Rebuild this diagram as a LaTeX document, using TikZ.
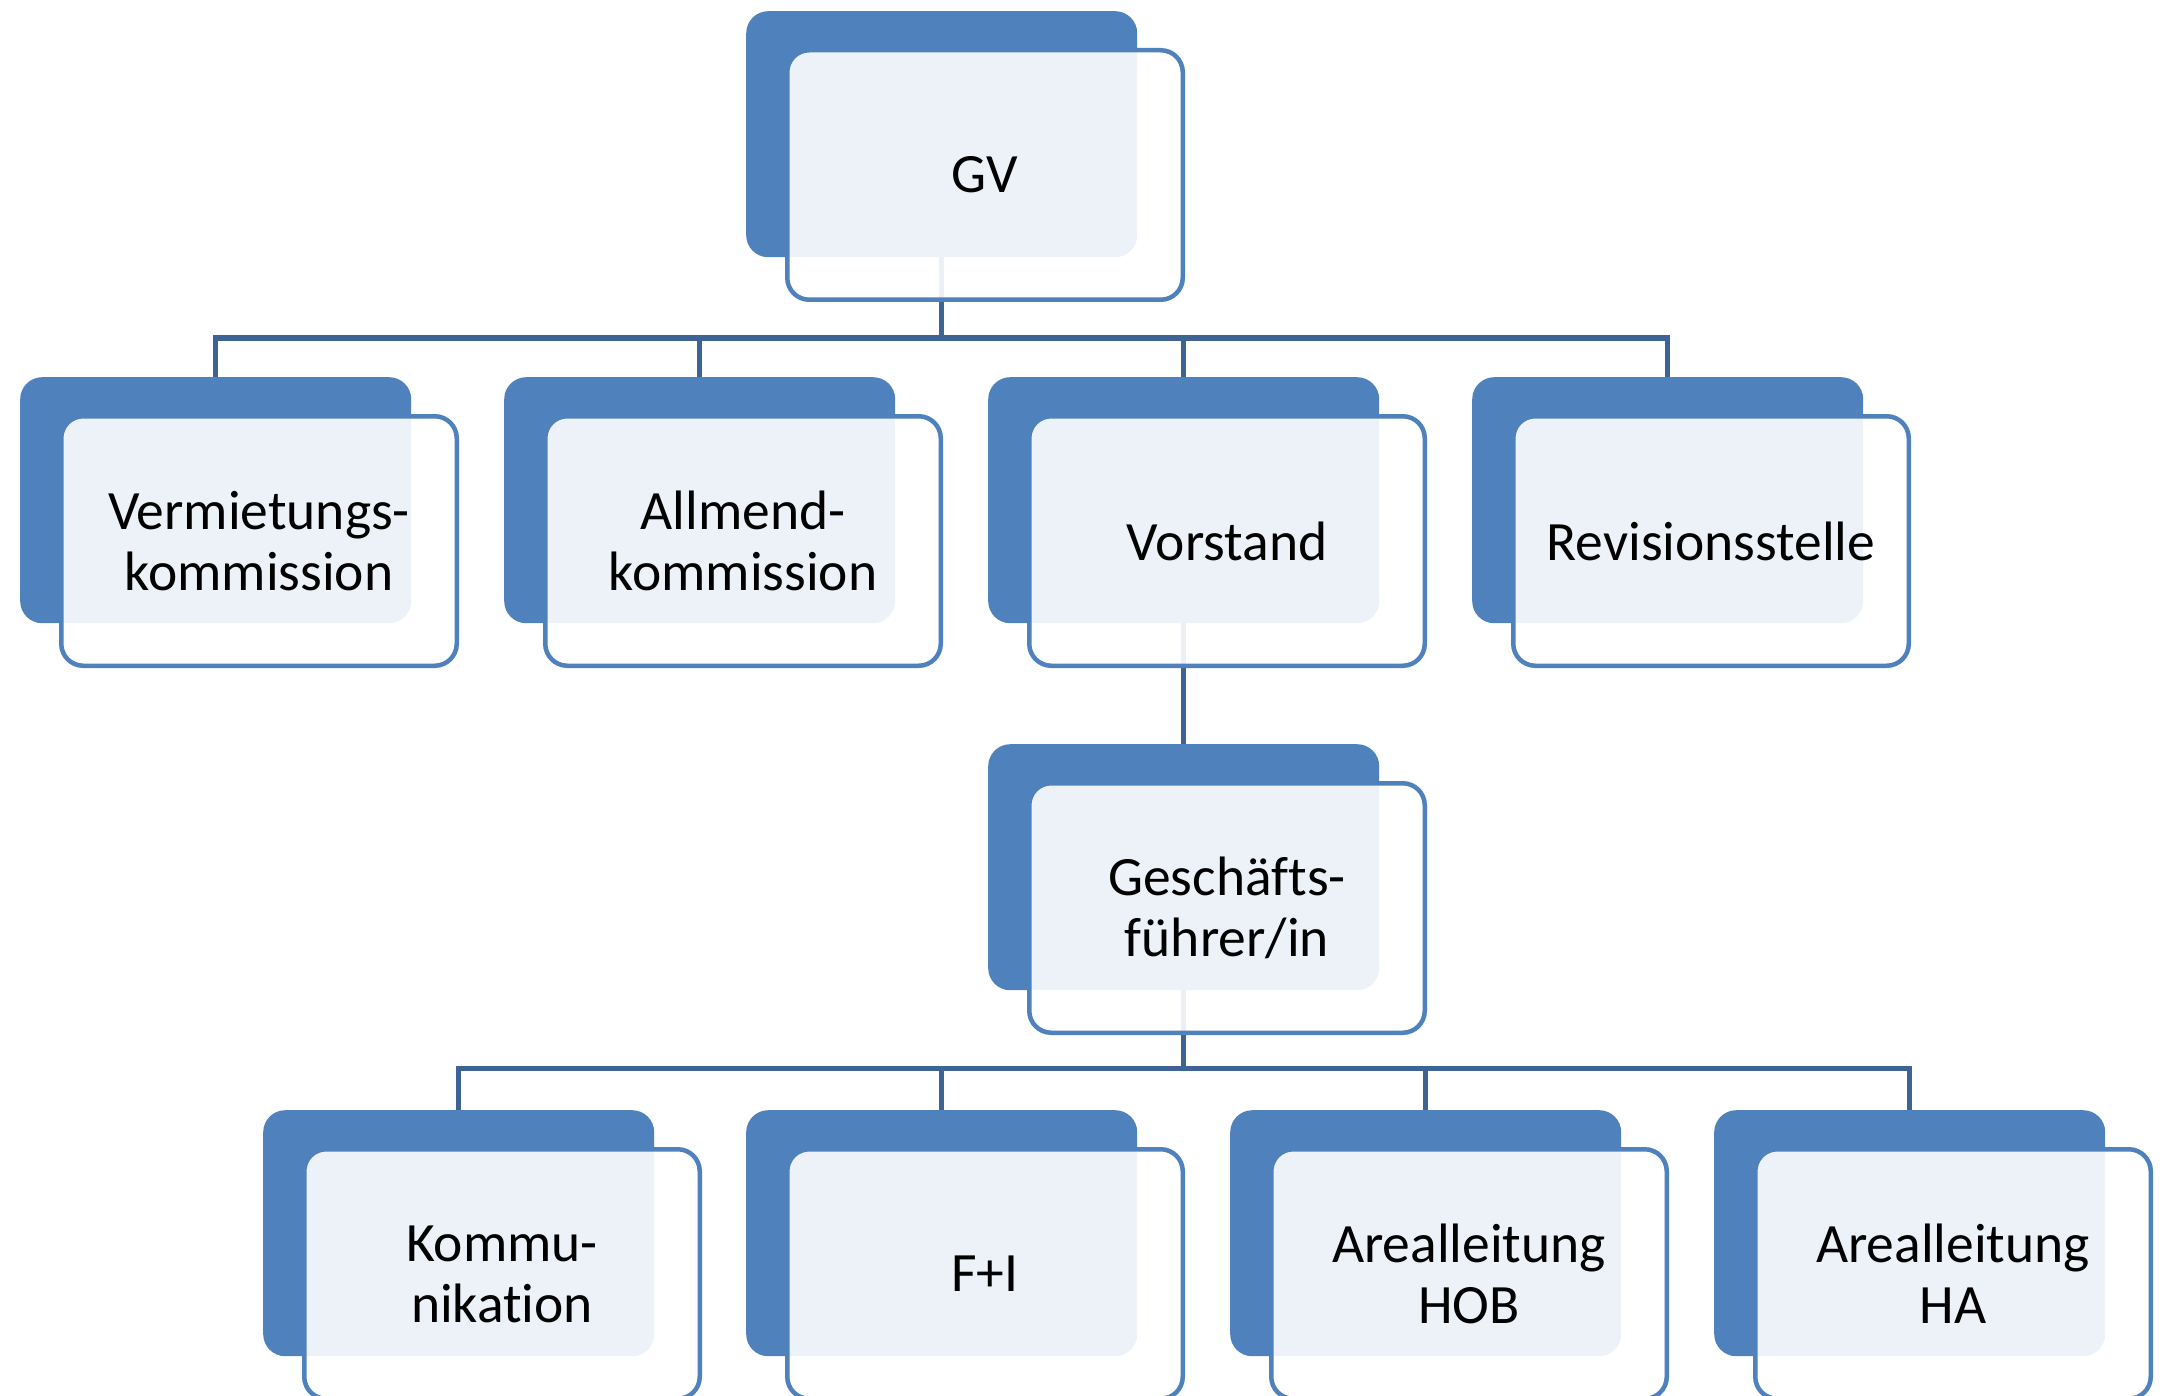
\documentclass[tikz,border=0pt]{standalone}
\usepackage{fontspec}
\setmainfont{Carlito}[Ligatures=NoCommon]
\definecolor{boxblue}{RGB}{79,129,189}
\definecolor{connblue}{RGB}{62,100,150}
\tikzset{
  backbox/.style={rectangle, rounded corners=22pt, fill=boxblue, inner sep=0pt,
    minimum width=391pt, minimum height=246pt, anchor=north west},
  frontbox/.style={rectangle, rounded corners=22pt, fill=white, fill opacity=0.9,
    text opacity=1, draw=boxblue, draw opacity=1, line width=4.5pt, inner sep=0pt,
    minimum width=395.5pt, minimum height=249.5pt, anchor=north west,
    align=center, font=\fontsize{55.5}{61}\selectfont},
  conn/.style={draw=connblue, line width=5pt}
}
\newcommand{\unit}[4]{%
  \node[backbox] (#1) at (#2,#3) {};
  \node[frontbox] (#1F) at (#2+39,#3+37) {#4};
}
\begin{document}
\begin{tikzpicture}[x=1pt,y=-1pt]
\useasboundingbox (0,0) rectangle (2167,1396);
\clip (0,0) rectangle (2167,1396);
\coordinate (barA) at (0,338);
\coordinate (barB) at (0,1068);
% positions of back boxes (for connectors)
\path (746,11) node[backbox, opacity=0] (gv) {};
\path (20,377) node[backbox, opacity=0] (verm) {};
\path (504,377) node[backbox, opacity=0] (allm) {};
\path (988,377) node[backbox, opacity=0] (vor) {};
\path (1472,377) node[backbox, opacity=0] (rev) {};
\path (988,744) node[backbox, opacity=0] (gf) {};
\path (263,1110) node[backbox, opacity=0] (kom) {};
\path (746,1110) node[backbox, opacity=0] (fi) {};
\path (1230,1110) node[backbox, opacity=0] (hob) {};
\path (1714,1110) node[backbox, opacity=0] (ha) {};
% connectors
\foreach \c in {verm,allm,vor,rev}
  \draw[conn] (gv.south) -- (gv.south |- barA) -| (\c.north);
\draw[conn] (vor.south) -- (gf.north);
\foreach \c in {kom,fi,hob,ha}
  \draw[conn] (gf.south) -- (gf.south |- barB) -| (\c.north);
% boxes
\unit{gvB}{746}{11}{GV}
\unit{vermB}{20}{377}{Vermietungs-\\kommission}
\unit{allmB}{504}{377}{Allmend-\\kommission}
\unit{vorB}{988}{377}{Vorstand}
\unit{revB}{1472}{377}{Revisionsstelle}
\unit{gfB}{988}{744}{Geschäfts-\\führer/in}
\unit{komB}{263}{1110}{Kommu-\\nikation}
\unit{fiB}{746}{1110}{F+I}
\unit{hobB}{1230}{1110}{Arealleitung\\HOB}
\unit{haB}{1714}{1110}{Arealleitung\\HA}
\end{tikzpicture}
\end{document}
